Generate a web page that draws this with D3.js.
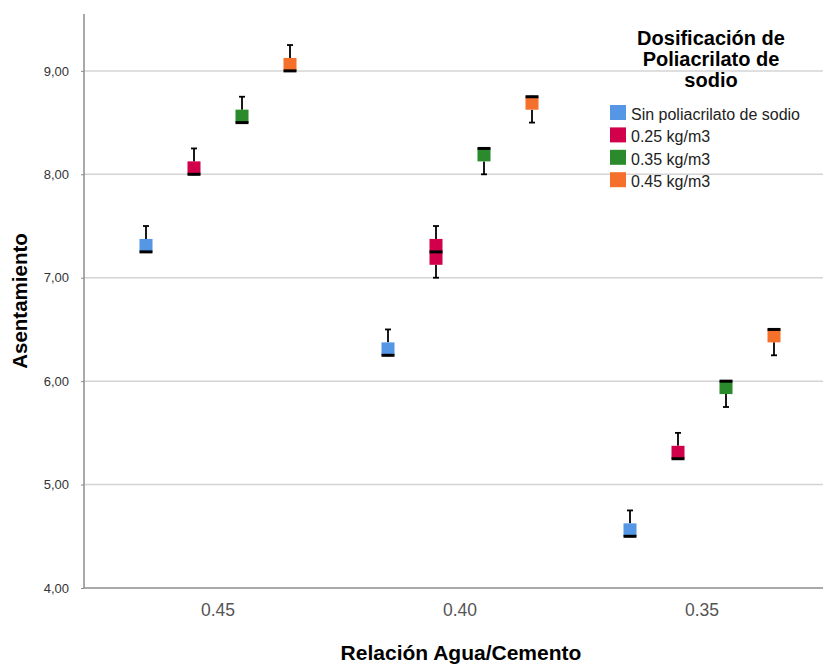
<!DOCTYPE html>
<html>
<head>
<meta charset="utf-8">
<script src="https://cdn.jsdelivr.net/npm/d3@7"></script>
<style>
  body { margin: 0; background: #fff; }
  text { font-family: "Liberation Sans", Arial, sans-serif; }
</style>
</head>
<body>
<script>
// water/cement ratio groups and dosage series
var groups = ["0.45", "0.40", "0.35"];
var series = ["Sin poliacrilato de sodio", "0.25 kg/m3", "0.35 kg/m3", "0.45 kg/m3"];
var colors = ["#5597e4", "#d2004a", "#2b8a2b", "#f4702b"];

// [min, q1, median, q3, max] per group, per series
var sinPoli = [[7.25, 7.25, 7.25, 7.375, 7.5], [6.25, 6.25, 6.25, 6.375, 6.5], [4.5, 4.5, 4.5, 4.625, 4.75]];
var dos025 = [[8.0, 8.0, 8.0, 8.125, 8.25], [7.0, 7.125, 7.25, 7.375, 7.5], [5.25, 5.25, 5.25, 5.375, 5.5]];
var dos035 = [[8.5, 8.5, 8.5, 8.625, 8.75], [8.0, 8.125, 8.25, 8.25, 8.25], [5.75, 5.875, 6.0, 6.0, 6.0]];
var dos045 = [[9.0, 9.0, 9.0, 9.125, 9.25], [8.5, 8.625, 8.75, 8.75, 8.75], [6.25, 6.375, 6.5, 6.5, 6.5]];
var allSeries = [sinPoli, dos025, dos035, dos045];

var yTicks = [4, 5, 6, 7, 8, 9];

var width = 823, height = 664;
var plotLeft = 84, plotRight = 823, plotTop = 14, plotBottom = 588;

var svg = d3.select("body").append("svg")
    .attr("width", width)
    .attr("height", height);

var y = d3.scaleLinear().domain([4, 9.55]).range([plotBottom, plotTop]);
var x = d3.scaleBand().domain(groups).range([97, 823]);
var xs = d3.scaleBand().domain(series).range([-96, 96]);

// gridlines
svg.append("g").selectAll("line")
  .data(yTicks.filter(function(d) { return d > 4; }))
  .enter().append("line")
    .attr("x1", plotLeft).attr("x2", plotRight)
    .attr("y1", function(d) { return y(d); })
    .attr("y2", function(d) { return y(d); })
    .attr("stroke", "#d4d4d4")
    .attr("stroke-width", 1.5);

// y axis
var yAxis = svg.append("g")
    .attr("transform", "translate(" + plotLeft + ",0)")
    .call(d3.axisLeft(y).tickValues(yTicks).tickSize(3)
      .tickFormat(function(d) { return d3.format(".2f")(d).replace(".", ","); }));
yAxis.select(".domain").attr("d", "M0," + plotTop + "V" + plotBottom)
    .attr("stroke", "#8c8c8c").attr("stroke-width", 1.5);
yAxis.selectAll(".tick line").attr("stroke", "#8c8c8c");
yAxis.selectAll(".tick text").attr("fill", "#333").style("font-size", "13px").attr("x", -15);

// x axis
var xAxis = svg.append("g")
    .attr("transform", "translate(0," + plotBottom + ")")
    .call(d3.axisBottom(x).tickSize(0).tickPadding(16));
xAxis.select(".domain").attr("d", "M" + plotLeft + ",0H" + plotRight)
    .attr("stroke", "#8c8c8c").attr("stroke-width", 1.5);
xAxis.selectAll(".tick text").attr("fill", "#555").style("font-size", "17.5px");

// boxes
var boxW = 13, capW = 6;
allSeries.forEach(function(vals, si) {
  var g = svg.append("g");
  vals.forEach(function(v, gi) {
    var cx = x(groups[gi]) + x.bandwidth() / 2 + xs(series[si]) + xs.bandwidth() / 2;
    // whiskers
    g.append("line").attr("x1", cx).attr("x2", cx)
      .attr("y1", y(v[0])).attr("y2", y(v[1]))
      .attr("stroke", "#000").attr("stroke-width", 1.8);
    g.append("line").attr("x1", cx).attr("x2", cx)
      .attr("y1", y(v[3])).attr("y2", y(v[4]))
      .attr("stroke", "#000").attr("stroke-width", 1.8);
    [v[0], v[4]].forEach(function(c) {
      g.append("line").attr("x1", cx - capW / 2).attr("x2", cx + capW / 2)
        .attr("y1", y(c)).attr("y2", y(c))
        .attr("stroke", "#000").attr("stroke-width", 1.8);
    });
    g.append("rect")
      .attr("x", cx - boxW / 2).attr("width", boxW)
      .attr("y", y(v[3])).attr("height", y(v[1]) - y(v[3]))
      .attr("fill", colors[si]);
    g.append("line").attr("x1", cx - boxW / 2).attr("x2", cx + boxW / 2)
      .attr("y1", y(v[2])).attr("y2", y(v[2]))
      .attr("stroke", "#000").attr("stroke-width", 3);
  });
});

// axis titles
svg.append("text")
    .attr("transform", "translate(27," + ((plotTop + plotBottom) / 2) + ") rotate(-90)")
    .attr("text-anchor", "middle")
    .style("font-size", "20.5px").style("font-weight", "bold")
    .text("Asentamiento");
svg.append("text")
    .attr("x", 461).attr("y", 660)
    .attr("text-anchor", "middle")
    .style("font-size", "21px").style("font-weight", "bold")
    .text("Relación Agua/Cemento");

// legend
var legTitle = ["Dosificación de", "Poliacrilato de", "sodio"];
svg.append("g").selectAll("text")
  .data(legTitle)
  .enter().append("text")
    .attr("x", 711)
    .attr("y", function(d, i) { return 45 + i * 21; })
    .attr("text-anchor", "middle")
    .style("font-size", "20px").style("font-weight", "bold")
    .text(function(d) { return d; });

var leg = svg.append("g").selectAll("g")
  .data(series)
  .enter().append("g")
    .attr("transform", function(d, i) { return "translate(610," + (105 + i * 22.4) + ")"; });
leg.append("rect")
    .attr("width", 16).attr("height", 15)
    .attr("fill", function(d, i) { return colors[i]; });
leg.append("text")
    .attr("x", 21).attr("y", 15)
    .style("font-size", "16px").attr("fill", "#222")
    .text(function(d) { return d; });
</script>
</body>
</html>
